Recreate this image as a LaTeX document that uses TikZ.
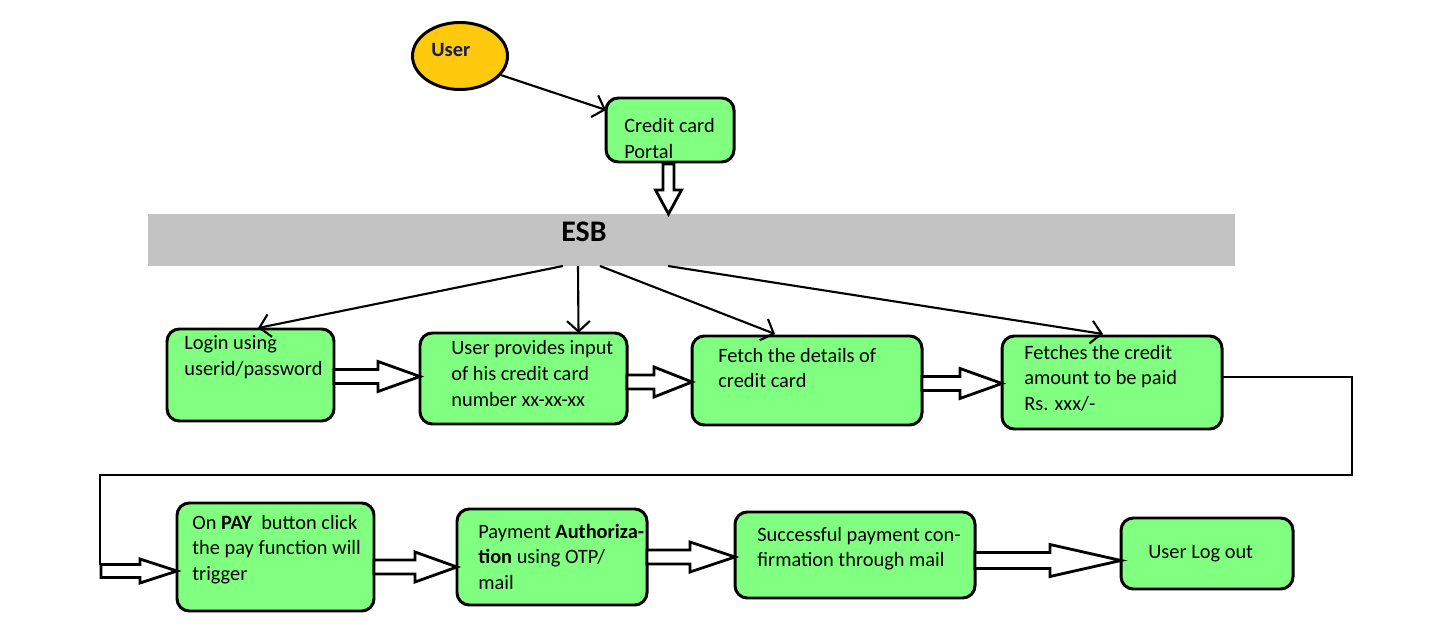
\documentclass[tikz,border=0pt]{standalone}
\usepackage{fontspec}
\setmainfont{Carlito}
\usetikzlibrary{calc,arrows.meta,shapes.geometric}
\definecolor{boxgreen}{HTML}{80FF80}
\definecolor{useryellow}{HTML}{FFC90E}
\definecolor{esbgrey}{HTML}{C3C3C3}
\definecolor{usernavy}{RGB}{20,30,80}
\newcommand\bt{\fontsize{11.6pt}{14.7pt}\selectfont}
\newcommand\lines[1]{\begin{tabular}[t]{@{}l@{}}#1\end{tabular}}
\newcommand\boxat[5]{\node[flowbox, minimum width={(#4-#2)*0.02cm}, minimum height={(#5-#3)*0.02cm}] (#1) at ({(#2+#4)/2},{(#3+#5)/2}) {};}
% hollow right arrow: start, tip, head length, shaft half, head half (px)
\newcommand\hollowR[5]{\coordinate (hs) at (#1 |- #2);
\draw[hollow] ($(hs)+(0,#4)$) -- ($(#2)+(-#3,#4)$) -- ($(#2)+(-#3,#5)$) -- (#2) -- ($(#2)+(-#3,-#5)$) -- ($(#2)+(-#3,-#4)$) -- ($(hs)+(0,-#4)$) -- cycle;}
\tikzset{
  flowbox/.style={draw=black, fill=boxgreen, line width=1.7pt, rounded corners=7pt, inner sep=0pt, outer sep=0pt},
  txt/.style={anchor=base west, inner sep=0pt, font=\bt},
  hollow/.style={draw=black, fill=white, line width=1.6pt, line join=miter},
  esbarrow/.style={line width=1.2pt, -{Straight Barb[length=6pt,width=13pt,line width=1.2pt]}},
  conn/.style={line width=1.4pt},
}
\begin{document}
\begin{tikzpicture}[x=0.02cm,y=-0.02cm]
\useasboundingbox (0,0) rectangle (1450,638);
% user
\node[ellipse, draw=black, line width=1.7pt, fill=useryellow, minimum width=95*0.02cm, minimum height=67*0.02cm, inner sep=0pt] (user) at (460,56) {};
\node[txt, font=\bt\bfseries, text=usernavy] (usertxt) at (431,57) {User};
% portal
\boxat{portal}{606}{98}{734}{162}
\node[txt] (portaltxt) at (624,133) {\lines{Credit card\\Portal}};
\draw[esbarrow] (user.-25) -- ($(portal.north west)+(0,12)$);
% ESB
\node[fill=esbgrey, minimum width=1087*0.02cm, minimum height=52*0.02cm, inner sep=0pt, outer sep=0pt] (esb) at (691.5,240) {};
\node[anchor=base west, inner sep=0pt, font=\fontsize{17pt}{20pt}\selectfont\bfseries] (esbtxt) at (561,242) {ESB};
% portal -> ESB hollow arrow
\coordinate (ps) at ($(portal.south)+(-1.5,2)$);
\coordinate (pe) at (ps |- esb.north);
\draw[hollow] ($(ps)+(-5.5,0)$) -- ($(pe)+(-5.5,-24)$) -- ($(pe)+(-13,-24)$) -- (pe) -- ($(pe)+(13,-24)$) -- ($(pe)+(5.5,-24)$) -- ($(ps)+(5.5,0)$) -- cycle;
% row 1 boxes
\boxat{b1}{167}{329}{334}{421}
\boxat{b2}{420}{333}{627}{424}
\boxat{b3}{692}{336}{922}{425}
\boxat{b4}{1002}{336}{1222}{429}
\node[txt] (t1) at (184,350) {\lines{Login using\\userid/password}};
\node[txt] (t2) at (451,355) {\lines{User provides input\\of his credit card\\number xx-xx-xx}};
\node[txt] (t3) at (718,362) {\lines{Fetch the details of\\credit card}};
\node[txt] (t4) at (1024,359) {\lines{Fetches the credit\\amount to be paid\\Rs. xxx/-}};
% ESB -> row 1
\draw[esbarrow] ($(esb.south west)+(415,0)$) -- ($(b1.north)+(7.5,-1)$);
\draw[esbarrow] ($(esb.south west)+(430,0)$) -- ($(b2.north)+(55,0)$);
\draw[esbarrow] ($(esb.south west)+(452,0)$) -- ($(b3.north)+(-32,-2)$);
\draw[esbarrow] ($(esb.south west)+(520,0)$) -- ($(b4.north)+(-9,-2)$);
% row 1 hollow arrows
\coordinate (t12) at ($(b2.west)+(0,-2)$);
\coordinate (t23) at ($(b3.west)+(0,1.5)$);
\coordinate (t34) at ($(b4.west)+(0,1)$);
\hollowR{b1.east}{t12}{42}{7}{15}
\hollowR{b2.east}{t23}{38}{7}{15}
\hollowR{b3.east}{t34}{42}{7}{15}
% row 2 boxes
\boxat{b5}{177}{503}{374}{611}
\boxat{b6}{457}{509}{647}{605}
\boxat{b7}{735}{512}{975}{598}
\boxat{b8}{1121}{518}{1293}{589}
\node[txt] (t5) at (192,529) {\lines{On \textbf{PAY}\ \ button click\\the pay function will\\trigger}};
\node[txt] (t6) at (478,538) {\lines{Payment \textbf{Authoriza-}\\\textbf{tion} using OTP/\\mail}};
\node[txt] (t7) at (757,541) {\lines{Successful payment con-\\firmation through mail}};
\node[txt] (t8) at (1148,558) {User Log out};
% connector b4 -> b5
\coordinate (k1) at (1352,377);
\coordinate (k2) at (1352,475);
\coordinate (k3) at (100,475);
\coordinate (k4) at (100,565);
\draw[conn] (b4.east |- k1) -- (k1) -- (k2) -- (k3) -- (k4);
\coordinate (tin5) at ($(b5.west)+(0,14)$);
\coordinate (s5) at (101,572);
\hollowR{s5}{tin5}{37}{6.5}{12}
% row 2 hollow arrows
\coordinate (t56) at ($(b6.west)+(0,10)$);
\coordinate (t67) at ($(b7.west)+(0,2)$);
\coordinate (t78) at ($(b8.west)+(0,7)$);
\hollowR{b5.east}{t56}{42}{7}{15}
\hollowR{b6.east}{t67}{45}{7}{15}
\hollowR{b7.east}{t78}{71}{8}{16}
\end{tikzpicture}
\end{document}
